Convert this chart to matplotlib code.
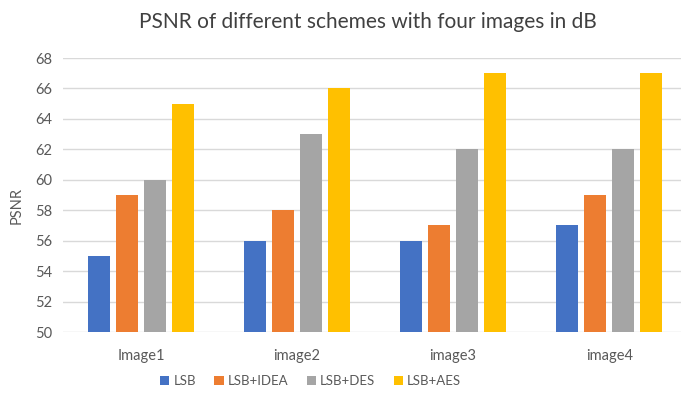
import numpy as np
import matplotlib.pyplot as plt

categories = ['Image1', 'image2', 'image3', 'image4']
schemes = ['LSB', 'LSB+IDEA', 'LSB+DES', 'LSB+AES']
lsb = [55, 56, 56, 57]
lsb_idea = [59, 58, 57, 59]
lsb_des = [60, 63, 62, 62]
lsb_aes = [65, 66, 67, 67]
colors = ['#4472C4', '#ED7D31', '#A5A5A5', '#FFC000']

plt.rcParams['font.family'] = ['Lato', 'DejaVu Sans']

fig = plt.figure(figsize=(6.81, 4.01), dpi=100)
ax = fig.add_axes([63/681, 69/401, 618/681, 274/401])

x = np.arange(len(categories))
width = 0.142
step = 0.18
for i, (vals, name) in enumerate(zip([lsb, lsb_idea, lsb_des, lsb_aes], schemes)):
    ax.bar(x + (i - 1.5) * step, vals, width, color=colors[i], label=name, zorder=3)

ax.set_ylim(50, 68)
ax.set_yticks(np.arange(50, 69, 2))
ax.set_xlim(-0.5, 3.46)
ax.set_xticks(x)
ax.set_xticklabels(categories)
ax.grid(axis='y', color='#D9D9D9', linewidth=1, zorder=0)
for s in ax.spines.values():
    s.set_visible(False)
ax.tick_params(axis='both', length=0, colors='#595959', labelsize=10.5)
ax.tick_params(axis='x', pad=12)
ax.tick_params(axis='y', pad=8)
ax.set_ylabel('PSNR', color='#595959', fontsize=10.5)
ax.yaxis.set_label_coords(-0.063, 0.46)

fig.text(0.54, 0.945, 'PSNR of different schemes with four images in dB',
         ha='center', va='center', fontsize=15, color='#404040')

fig.legend(loc='center', bbox_to_anchor=(0.456, 0.05), ncol=4, frameon=False,
           fontsize=9.5, handlelength=0.7, handleheight=0.7, handletextpad=0.3,
           columnspacing=1.4, labelcolor='#595959')

fig.savefig('out.png', dpi=100)
